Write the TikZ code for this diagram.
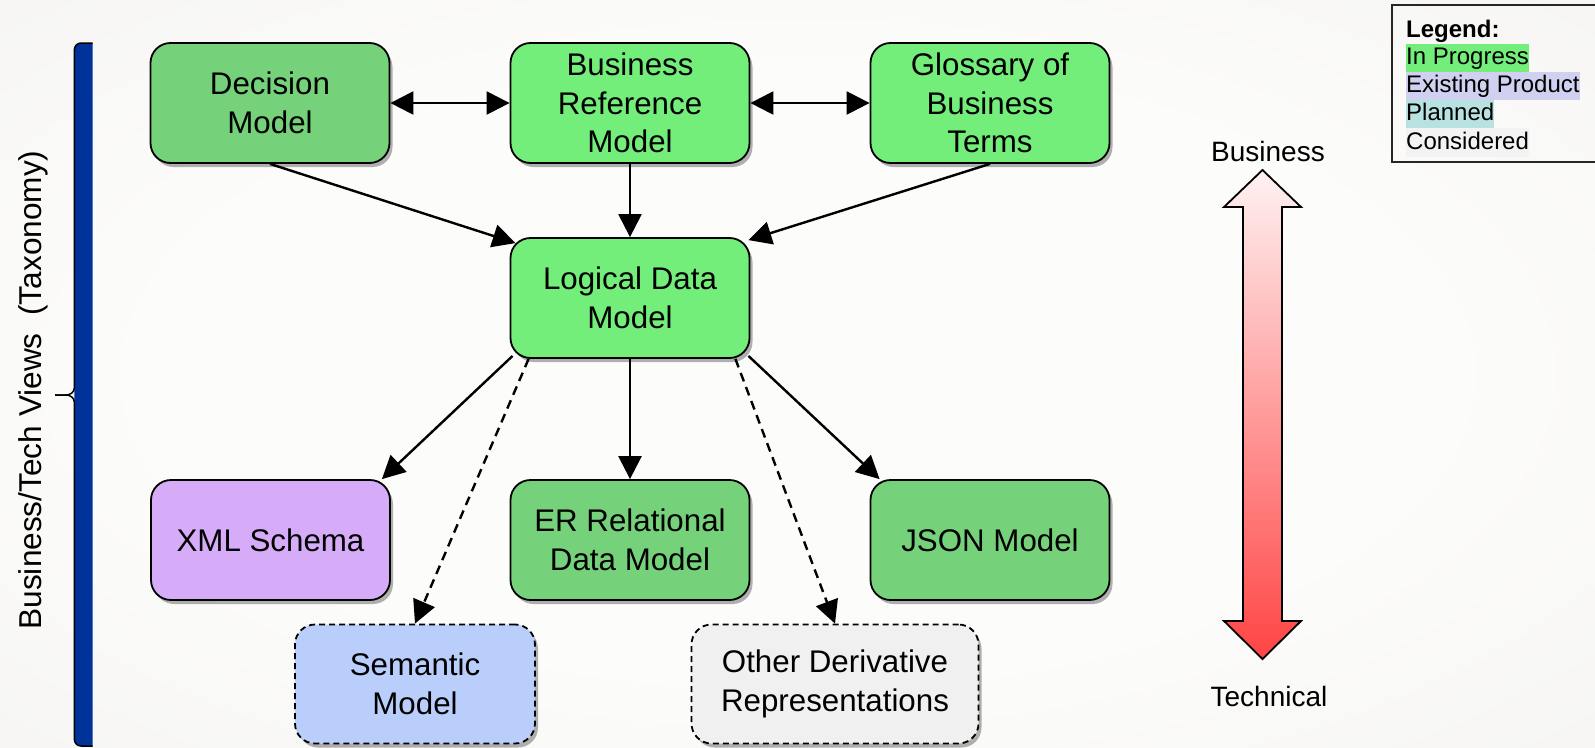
\documentclass[tikz,border=0pt]{standalone}
\usepackage{fontspec}
\setmainfont{Liberation Sans}
\usetikzlibrary{arrows.meta,shadows,calc}
\definecolor{dgreen}{RGB}{117,210,122}
\definecolor{bgreen}{RGB}{116,238,122}
\definecolor{xmlpurple}{RGB}{214,171,247}
\definecolor{semblue}{RGB}{185,206,250}
\definecolor{othgray}{RGB}{240,240,240}
\definecolor{lgexist}{RGB}{208,208,240}
\definecolor{lgplan}{RGB}{184,226,226}
\definecolor{lgcons}{RGB}{243,243,243}
\definecolor{barblue}{RGB}{0,51,153}
\definecolor{arrtop}{RGB}{255,242,242}
\definecolor{arrmid}{RGB}{250,195,195}
\definecolor{arrbot}{RGB}{255,68,68}
\definecolor{bg0}{RGB}{252,252,251}
\definecolor{bg1}{RGB}{245,244,242}
\definecolor{bg2}{RGB}{234,232,228}
\definecolor{bg3}{RGB}{226,224,220}
\pgfdeclareradialshading{bgshade}{\pgfpoint{0bp}{0bp}}{color(0bp)=(bg0); color(20bp)=(bg0); color(40bp)=(bg1); color(55bp)=(bg2); color(71bp)=(bg3)}
\newcommand\boxfont{\fontsize{31.3}{38.5}\selectfont}
\newcommand\legfont{\fontsize{24}{28}\selectfont}
\begin{document}
\begin{tikzpicture}[x=1pt,y=-1pt,
  box/.style={draw=black, line width=1.8pt, rounded corners=20pt,
    minimum width=239pt, minimum height=120pt, align=center, font=\boxfont,
    inner sep=0pt, text=black,
    drop shadow={shadow xshift=3pt, shadow yshift=-4pt, opacity=0.3, fill=black}},
  dashbox/.style={box, dash pattern=on 6pt off 4pt},
  conn/.style={line width=2.4pt, -{Triangle[length=23pt,width=23pt]}},
  dconn/.style={conn, dash pattern=on 9pt off 6pt},
  biconn/.style={line width=2.4pt, {Triangle[length=23pt,width=23pt]}-{Triangle[length=23pt,width=23pt]}},
  legitem/.style={anchor=base west, inner xsep=0pt, inner ysep=0pt, text height=20.7pt, text depth=7.5pt, font=\legfont}
]
\useasboundingbox (0,0) rectangle (1595,747);
\clip (0,0) rectangle (1595,747);
\shade[shading=bgshade] (0,0) rectangle (1595,747);

% left bar
\fill[barblue] (92.6,43) -- (81,43) to[out=180,in=90] (74.3,50) -- (74.3,739) to[out=-90,in=180] (81,746) -- (92.6,746) -- cycle;
\draw[line width=1.5pt] (92.6,43) -- (81,43) to[out=180,in=90] (74.3,50) -- (74.3,388) to[out=-90,in=0] (66,395) -- (55,395);
\draw[line width=1.5pt] (55,395) -- (66,395) to[out=0,in=90] (74.3,402) -- (74.3,739) to[out=-90,in=180] (81,746) -- (92.6,746);
\node[rotate=90, font=\fontsize{31.6}{36}\selectfont] (side) at (33.6,390) {Business/Tech Views\ \ (Taxonomy)};

% boxes
\node[box, fill=dgreen] (dec) at (270,103) {Decision\\Model};
\node[box, fill=bgreen] (bref) at (630,103) {Business\\Reference\\Model};
\node[box, fill=bgreen] (glos) at (990,103) {Glossary of\\Business\\Terms};
\node[box, fill=bgreen] (ldm) at (630,298) {Logical Data\\Model};
\node[box, fill=xmlpurple] (xml) at (270.5,540) {XML Schema};
\node[box, fill=dgreen] (er) at (630,540) {ER Relational\\Data Model};
\node[box, fill=dgreen] (json) at (990,540) {JSON Model};
\node[dashbox, fill=semblue, minimum width=240pt, minimum height=119pt] (sem) at (415,684) {Semantic\\Model};
\node[dashbox, fill=othgray, minimum width=287pt, minimum height=119pt] (oth) at (835,684) {Other Derivative\\Representations};

% connectors
\draw[biconn] (dec.east) -- (bref.west);
\draw[biconn] (bref.east) -- (glos.west);
\draw[conn] (dec.south) -- ($(ldm.north west)+(6,6)$);
\draw[conn] (bref.south) -- (ldm.north);
\draw[conn] (glos.south) -- ($(ldm.north east)+(-2,3)$);
\draw[conn] ($(ldm.south west)+(3,-3)$) -- ($(xml.north east)+(-9,0)$);
\draw[dconn] ($(ldm.south west)+(19,0)$) -- (sem.north);
\draw[conn] (ldm.south) -- (er.north);
\draw[dconn] ($(ldm.south east)+(-15,0)$) -- (oth.north);
\draw[conn] ($(ldm.south east)+(-2,-3)$) -- ($(json.north west)+(10,0)$);

% business/technical arrow
\shadedraw[top color=arrtop, middle color=arrmid, bottom color=arrbot, line width=1.8pt]
  (1262.5,170) -- (1301,207) -- (1282,207) -- (1282,621) -- (1301,621) -- (1262.5,659)
  -- (1224,621) -- (1243,621) -- (1243,207) -- (1224,207) -- cycle;
\node[font=\fontsize{28}{32}\selectfont] (bus) at (1268,151) {Business};
\node[font=\fontsize{28}{32}\selectfont] (tech) at (1269,696) {Technical};

% legend
\draw[line width=1.5pt, draw=black!85] (1392,5) rectangle (1610,162);
\node[legitem, font=\legfont\bfseries] (lg0) at (1406,37) {Legend:};
\node[legitem, fill=bgreen] (lg1) at (1406,64.5) {In Progress};
\node[legitem, fill=lgexist] (lg2) at (1406,92.7) {Existing Product};
\node[legitem, fill=lgplan] (lg3) at (1406,120.9) {Planned};
\node[legitem, fill=lgcons] (lg4) at (1406,149.1) {Considered};
\end{tikzpicture}
\end{document}
